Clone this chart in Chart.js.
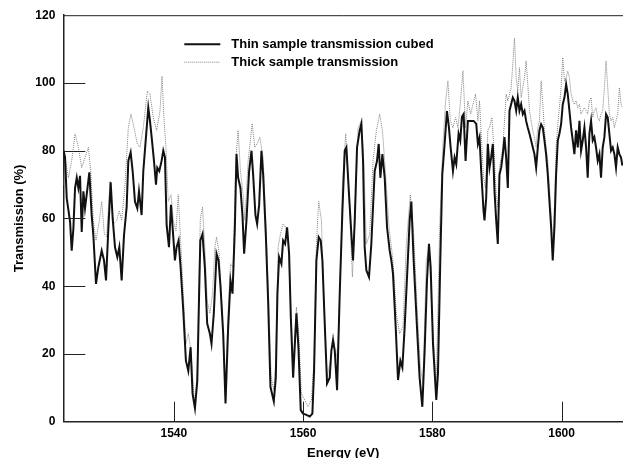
<!DOCTYPE html>
<html>
<head>
<meta charset="utf-8">
<script src="https://cdn.jsdelivr.net/npm/chart.js@4.4.1/dist/chart.umd.min.js"></script>
<style>
  html, body { margin: 0; padding: 0; background: #fff; }
  #wrap { width: 623px; height: 458px; }
</style>
</head>
<body>
<div id="wrap"><canvas id="spectrumCanvas"></canvas></div>
<script>
// thin sample transmission cubed (black line)
const thinEnergy = [
  1522.95, 1523.17, 1523.43, 1523.95, 1524.2, 1524.46, 1524.72, 1524.98, 1525.23, 1525.49,
  1525.75, 1526.01, 1526.26, 1526.52, 1526.93, 1527.29, 1527.55, 1527.96, 1528.32, 1528.84,
  1529.2, 1529.51, 1529.87, 1530.23, 1530.54, 1530.9, 1531.26, 1531.57, 1531.93, 1532.29,
  1532.7, 1532.96, 1533.32, 1533.63, 1533.99, 1534.35, 1534.61, 1535.02, 1535.28, 1535.69,
  1536.05, 1536.31, 1536.57, 1536.93, 1537.24, 1537.44, 1537.75, 1538.11, 1538.37, 1538.63,
  1538.89, 1539.25, 1539.56, 1539.92, 1540.17, 1540.43, 1540.74, 1541.05, 1541.46, 1541.87,
  1542.24, 1542.6, 1542.9, 1543.27, 1543.63, 1543.94, 1544.1, 1544.44, 1544.8, 1545.16,
  1545.58, 1545.83, 1546.19, 1546.61, 1546.92, 1547.22, 1547.64, 1548.0, 1548.41, 1548.77,
  1549.08, 1549.44, 1549.7, 1549.95, 1550.31, 1550.62, 1550.88, 1551.24, 1551.65, 1552.02,
  1552.27, 1552.63, 1552.89, 1553.2, 1553.56, 1553.82, 1554.23, 1554.59, 1554.95, 1555.47,
  1555.78, 1556.03, 1556.29, 1556.65, 1556.91, 1557.22, 1557.53, 1557.84, 1558.1, 1558.46,
  1558.97, 1559.28, 1559.64, 1560.0, 1560.52, 1561.03, 1561.44, 1561.7, 1562.06, 1562.42,
  1562.73, 1562.99, 1563.35, 1563.71, 1564.12, 1564.38, 1564.64, 1564.9, 1565.26, 1565.67,
  1566.08, 1566.44, 1566.7, 1567.11, 1567.47, 1567.73, 1567.99, 1568.35, 1568.76, 1569.02,
  1569.28, 1569.53, 1569.79, 1570.2, 1570.56, 1571.08, 1571.44, 1571.7, 1571.96, 1572.27,
  1572.63, 1572.99, 1573.4, 1573.66, 1573.91, 1574.33, 1574.69, 1575.05, 1575.36, 1575.72,
  1576.23, 1576.49, 1576.75, 1577.11, 1577.62, 1578.03, 1578.45, 1578.81, 1579.17, 1579.48,
  1579.74, 1580.1, 1580.61, 1580.87, 1581.23, 1581.54, 1581.9, 1582.26, 1582.57, 1582.83,
  1583.19, 1583.44, 1583.7, 1584.06, 1584.32, 1584.58, 1584.84, 1585.14, 1585.5, 1586.02,
  1586.38, 1586.79, 1587.05, 1587.3, 1587.56, 1587.92, 1588.07, 1588.33, 1588.59, 1588.85,
  1589.1, 1589.36, 1589.62, 1589.88, 1590.13, 1590.39, 1590.65, 1590.91, 1591.16, 1591.42,
  1591.68, 1591.94, 1592.19, 1592.45, 1592.71, 1592.97, 1593.22, 1593.48, 1593.74, 1594.0,
  1594.26, 1594.51, 1594.77, 1595.03, 1595.29, 1595.54, 1595.8, 1596.06, 1596.32, 1596.57,
  1596.83, 1597.09, 1597.35, 1597.6, 1597.86, 1598.12, 1598.38, 1598.63, 1598.89, 1599.15,
  1599.41, 1599.66, 1599.92, 1600.18, 1600.44, 1600.7, 1600.95, 1601.21, 1601.47, 1601.73,
  1601.98, 1602.24, 1602.5, 1602.76, 1603.01, 1603.27, 1603.53, 1603.79, 1604.04, 1604.3,
  1604.56, 1604.82, 1605.07, 1605.33, 1605.59, 1605.85, 1606.1, 1606.36, 1606.62, 1606.88,
  1607.14, 1607.39, 1607.65, 1607.91, 1608.17, 1608.42, 1608.68, 1608.94, 1609.2, 1609.4
];
const thinT = [
  80, 78, 66, 59, 50.5, 57, 69, 72, 69, 72.6,
  56, 68, 63, 67, 73.6, 61, 55, 40.7, 45.6, 50.5,
  47.6, 41.7, 57, 70.7, 60, 51.5, 48.6, 51.5, 41.7, 55,
  63.3, 77, 79.5, 74, 65, 63, 68, 61, 74, 84,
  92.7, 88.8, 84, 77, 70, 75, 74, 77, 80, 78,
  58, 51.5, 64, 54.5, 47.6, 51.5, 53.5, 45.6, 32.9, 18,
  15, 22, 8.3, 4, 12, 40, 53.5, 55.4, 45.6, 29,
  26, 23, 32, 49.6, 47.6, 40, 26, 5.4, 28, 41.7,
  37.8, 57, 79, 72, 69, 61, 49.6, 59.4, 74, 80,
  73, 61, 58.4, 64, 80, 73, 55.4, 35.8, 10.3, 6,
  13, 37.8, 48.6, 46.6, 53.5, 52.5, 57.4, 49.6, 31, 13,
  32, 22, 3.4, 2.4, 2, 1.5, 2.4, 15, 47.6, 54.5,
  53.5, 47.6, 29, 11.3, 13, 21, 24, 21, 9.3, 37.8,
  62, 80, 81, 67, 55.4, 47.6, 59.4, 81, 86, 88,
  77, 51.5, 44.7, 42.7, 52.5, 74, 77, 82, 72, 79,
  72, 57.4, 50.5, 47.6, 43.7, 28, 12.3, 18, 16, 28,
  48.6, 59.4, 65, 47.6, 28, 13, 4.4, 21, 41.7, 52.5,
  45.6, 23, 6.4, 14.2, 47.6, 73, 82, 91.7, 86.8, 81,
  74, 78, 76, 85, 83, 90, 90.8, 77, 88.8, 88.8,
  88.8, 88, 82, 83.9, 74, 62.3, 59.4, 66, 82, 75,
  78, 82, 68, 59.4, 52.5, 73, 75, 79, 84, 78,
  69, 91.8, 93.7, 95.7, 94.7, 91.8, 95.7, 91.8, 93.7, 90.8,
  91.8, 88.8, 86.8, 85, 83, 81, 79, 75, 81, 86,
  87.8, 86.8, 83, 79, 73, 65, 57.4, 47.6, 57.4, 73,
  83, 85, 87.8, 93.7, 95.7, 99.6, 96.7, 91.8, 86.8, 83,
  79, 86, 81, 88.8, 80, 83, 86.8, 81, 72, 85,
  88.8, 83, 84, 81, 77, 79, 72, 81, 84, 90.8,
  89.8, 85, 80, 81, 79, 75, 81, 79, 78, 75.6
];

// thick sample transmission (grey dotted line)
const thickEnergy = [
  1522.95, 1523.17, 1523.69, 1524.2, 1524.72, 1525.23, 1525.75, 1526.26, 1526.78, 1527.14,
  1527.55, 1527.96, 1528.48, 1528.84, 1529.25, 1529.61, 1530.13, 1530.64, 1531.16, 1531.57,
  1531.93, 1532.45, 1532.96, 1533.37, 1533.84, 1534.35, 1534.76, 1535.28, 1535.9, 1536.31,
  1536.83, 1537.34, 1537.86, 1538.17, 1538.47, 1538.78, 1539.14, 1539.56, 1539.92, 1540.33,
  1540.69, 1541.05, 1541.46, 1541.87, 1542.24, 1542.6, 1543.01, 1543.27, 1543.63, 1543.94,
  1544.1, 1544.44, 1544.8, 1545.16, 1545.58, 1545.99, 1546.35, 1546.61, 1547.02, 1547.38,
  1548.0, 1548.41, 1548.77, 1549.18, 1549.59, 1549.95, 1550.31, 1550.73, 1550.99, 1551.5,
  1552.12, 1552.53, 1552.89, 1553.3, 1553.82, 1554.23, 1554.64, 1555.06, 1555.47, 1555.78,
  1556.14, 1556.5, 1556.91, 1557.32, 1557.68, 1558.1, 1558.46, 1558.97, 1559.33, 1559.74,
  1560.26, 1560.77, 1561.29, 1561.7, 1562.06, 1562.42, 1562.84, 1563.25, 1563.71, 1564.23,
  1564.64, 1565.05, 1565.41, 1565.93, 1566.08, 1566.6, 1567.11, 1567.63, 1567.99, 1568.5,
  1569.02, 1569.38, 1569.79, 1570.31, 1570.82, 1571.34, 1571.85, 1572.27, 1572.78, 1573.3,
  1573.91, 1574.43, 1574.94, 1575.46, 1575.97, 1576.59, 1577.11, 1577.62, 1578.14, 1578.55,
  1579.07, 1579.48, 1579.99, 1580.61, 1581.13, 1581.64, 1582.05, 1582.41, 1582.78, 1583.19,
  1583.6, 1583.96, 1584.32, 1584.73, 1585.14, 1585.5, 1585.92, 1586.28, 1586.69, 1587.05,
  1587.3, 1587.56, 1587.92, 1588.23, 1588.59, 1588.85, 1589.21, 1589.52, 1589.88, 1590.13,
  1590.39, 1590.91, 1591.42, 1591.68, 1592.19, 1592.45, 1592.71, 1592.97, 1593.22, 1593.48,
  1593.74, 1594.0, 1594.26, 1594.51, 1594.77, 1595.03, 1595.29, 1595.54, 1595.8, 1596.06,
  1596.32, 1596.57, 1596.83, 1597.09, 1597.35, 1597.6, 1597.86, 1598.12, 1598.38, 1598.63,
  1598.89, 1599.15, 1599.41, 1599.66, 1599.92, 1600.18, 1600.44, 1600.7, 1600.95, 1601.21,
  1601.47, 1601.73, 1601.98, 1602.24, 1602.5, 1602.76, 1603.01, 1603.27, 1603.53, 1603.79,
  1604.04, 1604.3, 1604.56, 1604.82, 1605.07, 1605.33, 1605.59, 1605.85, 1606.1, 1606.36,
  1606.62, 1606.88, 1607.14, 1607.39, 1607.65, 1607.91, 1608.17, 1608.42, 1608.68, 1608.94,
  1609.2, 1609.4
];
const thickT = [
  70, 78, 72, 77, 85, 81, 75, 78, 81, 74,
  59.4, 53.5, 59.4, 65, 55.4, 54.5, 71, 58.4, 59.4, 62.3,
  59.4, 70, 86.8, 90.8, 86.8, 82, 81, 86.8, 97.6, 96.7,
  89.8, 86, 91.7, 102, 89.8, 81, 65, 67, 59.4, 56.4,
  67, 53.5, 38, 23, 26, 22, 10.3, 5.4, 15, 45,
  60, 63.3, 51.5, 35.8, 32, 37.8, 51.5, 54.5, 49.6, 35.8,
  8.3, 32.9, 46.6, 45.6, 77, 86, 74, 67, 59.4, 77,
  88, 81, 82, 84, 78, 59.4, 37.8, 13.2, 9.3, 18,
  51.5, 55.4, 58.4, 57.4, 52.5, 33.8, 16.2, 33.8, 26, 8.3,
  6.4, 4.4, 6.4, 18, 52.5, 65, 59.4, 33.8, 13.2, 18,
  26, 18, 23, 55, 70, 85, 67, 42.7, 57.4, 86.8,
  88.8, 77, 52.5, 55.4, 77, 86, 90.8, 86, 73, 57.4,
  47.6, 32, 26, 28, 52.5, 67, 55.4, 34.8, 16.2, 11.3,
  47.6, 51.5, 30, 11.3, 57.4, 82, 94.7, 100.6, 88.8, 86.8,
  89.8, 86.8, 93.7, 103.6, 86.8, 94.7, 90.8, 93.7, 96.7, 88.8,
  94.7, 84.9, 72, 69, 86, 87, 89.8, 81, 67, 63.3,
  75, 81, 96.7, 94.7, 98.6, 105.5, 113.3, 101.6, 97.6, 104.5,
  95.7, 98.6, 101.6, 106.5, 99.6, 91.8, 88.8, 85.9, 83.9, 81,
  86.8, 88.8, 100.6, 93.7, 85.9, 81, 77, 69, 61.3, 51.5,
  63.3, 81, 87.8, 92.7, 98.6, 107.5, 100.6, 101.6, 103.5, 101.6,
  96.7, 94.7, 93.7, 94.7, 92.7, 93.7, 90.8, 91.8, 92.7, 91.8,
  90.8, 94.7, 95.7, 89.8, 91.8, 92.7, 89.8, 88.8, 90.8, 91.8,
  98.6, 106.5, 98.6, 90.8, 88.8, 89.8, 86.8, 88.8, 90.8, 98.6,
  93.7, 92.7
];

const seriesNames = ['Thin sample transmission cubed', 'Thick sample transmission'];
const xTicks = [1540, 1560, 1580, 1600];
const yTicks = [0, 20, 40, 60, 80, 100, 120];

const FONT = '"Liberation Sans", Arial, Helvetica, sans-serif';

function toPoints(xs, ys) {
  return xs.map((x, i) => ({ x: x, y: ys[i] }));
}

// inward tick marks, top frame line and the legend inside the plot
const framePlugin = {
  id: 'frame',
  afterDraw(chart) {
    const ctx = chart.ctx;
    const area = chart.chartArea;
    const xs = chart.scales.x;
    const ys = chart.scales.y;
    ctx.save();
    ctx.strokeStyle = '#222';
    ctx.lineWidth = 1;
    ctx.beginPath();
    ctx.moveTo(area.left, area.top + 0.5);
    ctx.lineTo(area.right, area.top + 0.5);
    yTicks.slice(1, -1).forEach(v => {
      const py = Math.round(ys.getPixelForValue(v)) + 0.5;
      ctx.moveTo(area.left, py);
      ctx.lineTo(area.left + 22, py);
    });
    xTicks.forEach(v => {
      const px = Math.round(xs.getPixelForValue(v)) + 0.5;
      ctx.moveTo(px, area.bottom);
      ctx.lineTo(px, area.bottom - 20);
    });
    ctx.stroke();

    // legend
    const lx = area.left + 121;
    const tx = area.left + 168;
    chart.data.datasets.forEach((ds, i) => {
      const ly = area.top + 29 + i * 18;
      ctx.strokeStyle = ds.borderColor;
      ctx.lineWidth = ds.borderWidth;
      ctx.setLineDash(ds.borderDash || []);
      ctx.beginPath();
      ctx.moveTo(lx, ly);
      ctx.lineTo(lx + 36, ly);
      ctx.stroke();
      ctx.setLineDash([]);
      ctx.fillStyle = '#000';
      ctx.font = 'bold 13px ' + FONT;
      ctx.textBaseline = 'middle';
      ctx.fillText(ds.label, tx, ly);
    });
    ctx.restore();
  }
};

const ctx = document.getElementById('spectrumCanvas').getContext('2d');
const spectrumChart = new Chart(ctx, {
  type: 'line',
  data: {
    datasets: [
      {
        label: seriesNames[0],
        data: toPoints(thinEnergy, thinT),
        borderColor: '#111',
        borderWidth: 2,
        pointRadius: 0,
        tension: 0
      },
      {
        label: seriesNames[1],
        data: toPoints(thickEnergy, thickT),
        borderColor: '#828282',
        borderWidth: 1,
        borderDash: [1, 1],
        pointRadius: 0,
        tension: 0
      }
    ]
  },
  options: {
    responsive: true,
    maintainAspectRatio: false,
    animation: false,
    layout: { padding: { top: 14, left: 0, right: 0, bottom: 0 } },
    plugins: {
      legend: { display: false },
      tooltip: { enabled: false }
    },
    scales: {
      x: {
        type: 'linear',
        min: 1522.9,
        max: 1609.5,
        afterBuildTicks: s => { s.ticks = xTicks.map(v => ({ value: v })); },
        afterFit: s => { s.height = 36.3; },
        grid: { display: false, drawTicks: false },
        border: { display: true, color: '#222', width: 1.5 },
        ticks: {
          color: '#000',
          maxRotation: 0,
          padding: 5,
          callback: v => String(v),
          font: { family: FONT, size: 12, weight: 'bold' }
        },
        title: {
          display: true,
          text: 'Energy (eV)',
          color: '#000',
          padding: { top: 0, bottom: -3 },
          font: { family: FONT, size: 13, weight: 'bold' }
        }
      },
      y: {
        min: 0,
        max: 120,
        afterBuildTicks: s => { s.ticks = yTicks.map(v => ({ value: v })); },
        afterFit: s => { s.width = 63.3; },
        grid: { display: false, drawTicks: false },
        border: { display: true, color: '#222', width: 1.5 },
        ticks: {
          color: '#000',
          padding: 8,
          callback: v => String(v),
          font: { family: FONT, size: 12, weight: 'bold' }
        },
        title: {
          display: true,
          text: 'Transmission (%)',
          color: '#000',
          padding: { top: 12, bottom: 0 },
          font: { family: FONT, size: 13, weight: 'bold' }
        }
      }
    }
  },
  plugins: [framePlugin]
});
</script>
</body>
</html>
